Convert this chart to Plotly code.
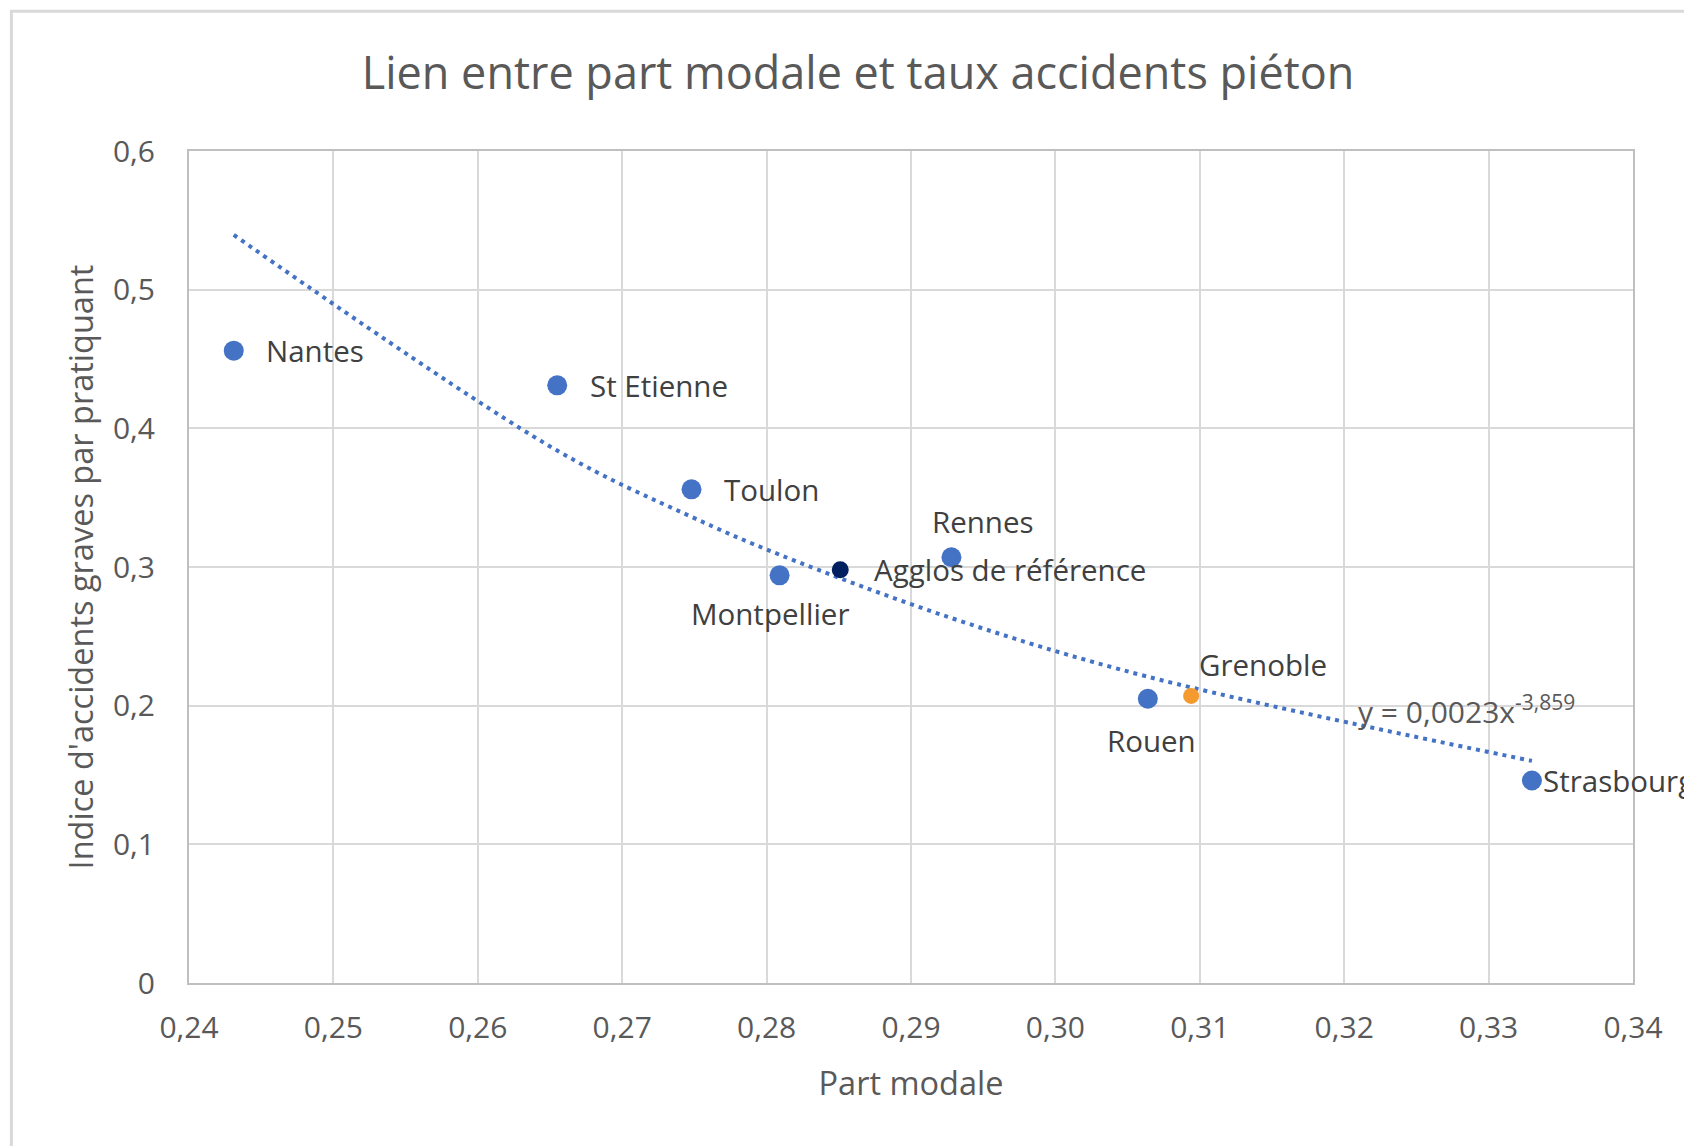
import plotly.graph_objects as go

# ── Data ──────────────────────────────────────────────────────────────────────
CITIES = ["Nantes", "St Etienne", "Toulon", "Montpellier", "Rennes", "Rouen", "Strasbourg"]
PART_MODALE = [0.2431, 0.2655, 0.2748, 0.2809, 0.2928, 0.3064, 0.3330]
INDICE = [0.456, 0.431, 0.356, 0.294, 0.307, 0.205, 0.146]

REF_NAME = "Agglos de référence"
REF_X = [0.2851]
REF_Y = [0.298]

GRENOBLE_NAME = "Grenoble"
GRENOBLE_X = [0.3094]
GRENOBLE_Y = [0.207]

# power trendline shown on the chart: y = 0,0023 x^-3,859
TREND_A = 0.0023
TREND_B = -3.859
TREND_LABEL = "y = 0,0023x<sup>-3,859</sup>"

X_TICKS = [0.24, 0.25, 0.26, 0.27, 0.28, 0.29, 0.30, 0.31, 0.32, 0.33, 0.34]
Y_TICKS = [0, 0.1, 0.2, 0.3, 0.4, 0.5, 0.6]

BLUE = "#4472C4"
NAVY = "#002060"
ORANGE = "#F59A2F"
GRID = "#D9D9D9"
TXT = "#595959"
LBL = "#404040"
FONT = "Open Sans"

# label offsets in pixels (dx, dy, xanchor)
LABEL_POS = {
    "Nantes": (30, 0, "left"),
    "St Etienne": (31, 0, "left"),
    "Toulon": (30, 0, "left"),
    "Montpellier": (-10, -38, "center"),
    "Rennes": (32, 36, "center"),
    "Rouen": (4, -42, "center"),
    "Strasbourg": (9, 0, "left"),
    REF_NAME: (32, 0, "left"),
    GRENOBLE_NAME: (72, 31, "center"),
}

trend_x = sorted(PART_MODALE)
trend_y = [TREND_A * x ** TREND_B for x in trend_x]

fig = go.Figure()

fig.add_trace(go.Scatter(
    x=trend_x, y=trend_y, mode="lines", line_shape="spline",
    line=dict(color=BLUE, width=4, dash="4px,5px"), hoverinfo="skip",
))
fig.add_trace(go.Scatter(
    x=PART_MODALE, y=INDICE, mode="markers", text=CITIES,
    marker=dict(color=BLUE, size=20),
))
fig.add_trace(go.Scatter(
    x=REF_X, y=REF_Y, mode="markers",
    marker=dict(color=NAVY, size=17),
))
fig.add_trace(go.Scatter(
    x=GRENOBLE_X, y=GRENOBLE_Y, mode="markers",
    marker=dict(color=ORANGE, size=16),
))

all_pts = list(zip(CITIES, PART_MODALE, INDICE))
all_pts += [(REF_NAME, REF_X[0], REF_Y[0]), (GRENOBLE_NAME, GRENOBLE_X[0], GRENOBLE_Y[0])]
for name, x, y in all_pts:
    dx, dy, anchor = LABEL_POS[name]
    fig.add_annotation(
        x=x, y=y, text=name, showarrow=False,
        xanchor=anchor, yanchor="middle", xshift=dx, yshift=dy,
        font=dict(family=FONT, size=29.5, color=LBL),
    )

fig.add_annotation(
    x=0.3208, y=0.197, text=TREND_LABEL, showarrow=False,
    xanchor="left", yanchor="middle",
    font=dict(family=FONT, size=30, color=TXT),
)

# outer chart border
fig.add_shape(
    type="rect", xref="paper", yref="paper",
    x0=-0.123, x1=1.06, y0=-0.21, y1=1.168,
    line=dict(color=GRID, width=3), layer="below",
)

# the page body adds an 8px offset, so the margins are shifted to compensate
fig.update_layout(
    width=1692, height=1146,
    separators=", ",
    plot_bgcolor="white", paper_bgcolor="white",
    showlegend=False,
    margin=dict(l=181, r=67, t=143, b=171),
    font=dict(family=FONT, color=TXT),
    title=dict(
        text="Lien entre part modale et taux accidents piéton",
        x=0.5024, xanchor="center", y=0.943, yanchor="middle",
        font=dict(family=FONT, size=45, color=TXT),
    ),
)
fig.update_xaxes(
    range=[0.24, 0.34], tickvals=X_TICKS, tickformat=".2f",
    showgrid=True, gridcolor=GRID, gridwidth=2,
    showline=True, linecolor="#BFBFBF", linewidth=2, mirror=True,
    zeroline=False, ticks="", ticklabelstandoff=17,
    tickfont=dict(size=30, color=TXT),
    title=dict(text="Part modale", font=dict(size=32.5, color=TXT), standoff=26),
)
fig.update_yaxes(
    range=[0, 0.6], tickvals=Y_TICKS,
    showgrid=True, gridcolor=GRID, gridwidth=2,
    showline=True, linecolor="#BFBFBF", linewidth=2, mirror=True,
    zeroline=False, ticks="", ticklabelstandoff=26,
    tickfont=dict(size=30, color=TXT),
    title=dict(text="Indice d'accidents graves par pratiquant",
               font=dict(size=32.5, color=TXT), standoff=10),
)

fig.write_html("out.html")
